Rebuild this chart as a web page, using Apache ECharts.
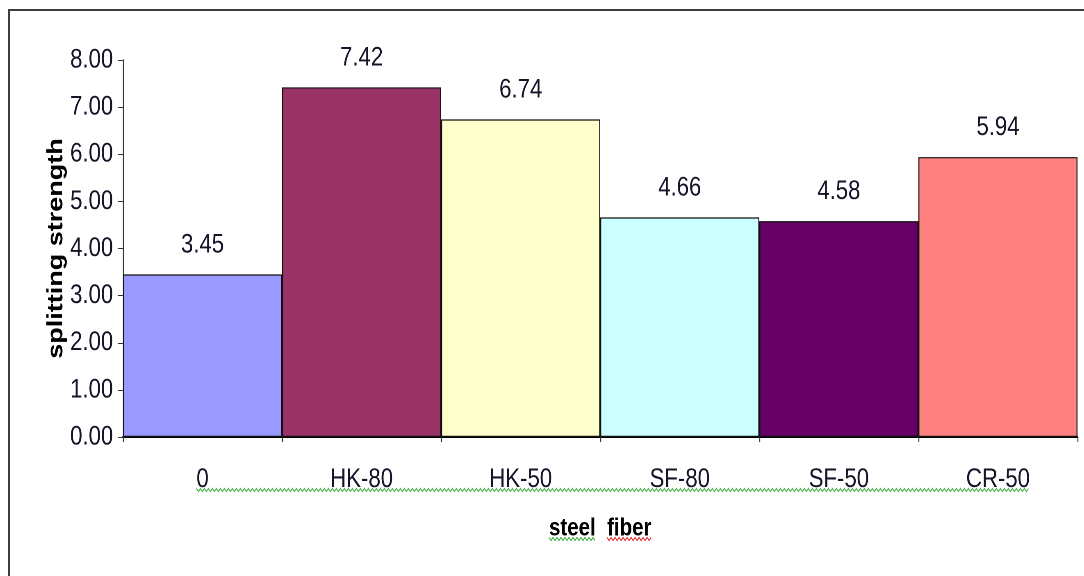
<!DOCTYPE html>
<html>
<head>
<meta charset="utf-8">
<script src="https://cdn.jsdelivr.net/npm/echarts@6/dist/echarts.min.js"></script>
<style>
  html, body { margin: 0; padding: 0; background: #fff; overflow: hidden; }
  #wrap { width: 1084px; height: 576px; overflow: hidden; position: relative; }
  /* the chart is laid out wider and condensed horizontally, giving narrow lettering */
  #chart { width: 1322px; height: 576px; transform: scaleX(0.82); transform-origin: 0 0; }
</style>
</head>
<body>
<div id="wrap"><div id="chart"></div></div>
<script>
// Splitting strength by steel fibre type
const categories = ['0', 'HK-80', 'HK-50', 'SF-80', 'SF-50', 'CR-50'];
const strengthValues = [3.45, 7.42, 6.74, 4.66, 4.58, 5.94];
const barColors = ['#9999FF', '#993366', '#FFFFCC', '#CCFFFF', '#660066', '#FF8080'];
const yMin = 0, yMax = 8, yStep = 1;
const xTitle = 'steel  fiber';
const yTitle = 'splitting strength';

const SX = 0.82;
const FONT = "'Liberation Sans',Arial,sans-serif";
const TEXT = '#15152a';

const chart = echarts.init(document.getElementById('chart'), null, {
  renderer: 'canvas', devicePixelRatio: 2
});

chart.setOption({
  animation: false,
  backgroundColor: '#fff',
  grid: { left: 150, right: 8, top: 60, bottom: 139 },
  xAxis: {
    type: 'category',
    data: categories,
    axisLine: { show: true, lineStyle: { color: '#000', width: 2 } },
    axisTick: { show: true, length: 5, lineStyle: { color: '#333', width: 1.2 } },
    axisLabel: { fontFamily: FONT, fontSize: 27, color: TEXT, margin: 29 },
    name: xTitle,
    nameLocation: 'middle',
    nameGap: 79,
    nameMoveOverlap: false,
    nameTextStyle: { fontFamily: FONT, fontWeight: 'bold', fontSize: 25, color: '#000' }
  },
  yAxis: {
    type: 'value',
    min: yMin, max: yMax, interval: yStep,
    axisLine: { show: true, lineStyle: { color: '#333', width: 1.2 } },
    axisTick: { show: true, length: 6, lineStyle: { color: '#333' } },
    splitLine: { show: false },
    axisLabel: {
      fontFamily: FONT, fontSize: 27, color: TEXT, margin: 12,
      padding: [5, 0, 0, 0],
      formatter: v => v.toFixed(2)
    },
    name: yTitle,
    nameLocation: 'middle',
    nameGap: 68,
    nameRotate: 90,
    nameMoveOverlap: false,
    nameTextStyle: { fontFamily: FONT, fontWeight: 'bold', fontSize: 27, color: '#000' }
  },
  series: [{
    type: 'bar',
    barCategoryGap: 0,
    data: strengthValues.map((v, i) => ({ value: v, itemStyle: { color: barColors[i] } })),
    itemStyle: { borderColor: '#111', borderWidth: 1.2 },
    label: {
      show: true, position: 'top', distance: 16,
      fontFamily: FONT, fontSize: 27, color: TEXT,
      formatter: p => p.value.toFixed(2)
    }
  }]
});

// Text width helper for placing the wavy proofing underlines
const measureCtx = document.createElement('canvas').getContext('2d');
function textWidth(str, font) {
  measureCtx.font = font;
  return measureCtx.measureText(str).width;
}

// Zig-zag polyline between x0 and x1 around baseline y
function wavy(x0, x1, y, color) {
  const pts = [];
  const step = 2 / SX;
  let up = true;
  for (let x = x0; x <= x1; x += step) {
    pts.push([x, y + (up ? -1.5 : 1.5)]);
    up = !up;
  }
  return {
    type: 'polyline',
    silent: true,
    shape: { points: pts },
    style: { stroke: color, lineWidth: 1.1, fill: null }
  };
}

const axisY = chart.convertToPixel({ yAxisIndex: 0 }, 0);
const labelFont = "27px " + FONT;
const lastCat = categories[categories.length - 1];
const firstX = chart.convertToPixel({ xAxisIndex: 0 }, categories[0]);
const lastX = chart.convertToPixel({ xAxisIndex: 0 }, lastCat);
const labelStart = firstX - textWidth(categories[0], labelFont) / 2;
const labelEnd = lastX + textWidth(lastCat, labelFont) / 2;

const titleFont = "bold 25px " + FONT;
const titleCenter = (firstX + lastX) / 2;
const titleW = textWidth(xTitle, titleFont);
const titleStart = titleCenter - titleW / 2;
const words = xTitle.split(/\s+/);
const w1 = textWidth(words[0], titleFont);
const w2Start = titleStart + titleW - textWidth(words[1], titleFont);

chart.setOption({
  graphic: [
    {
      type: 'rect',
      silent: true,
      shape: { x: 9 / SX, y: 10, width: 1600, height: 700 },
      style: { stroke: '#3c3c3c', lineWidth: 2, fill: null },
      z: 100
    },
    wavy(labelStart, labelEnd, axisY + 53, '#3fae3f'),
    wavy(titleStart, titleStart + w1, axisY + 102, '#3fae3f'),
    wavy(w2Start, titleStart + titleW, axisY + 102, '#e02828')
  ]
});
</script>
</body>
</html>
